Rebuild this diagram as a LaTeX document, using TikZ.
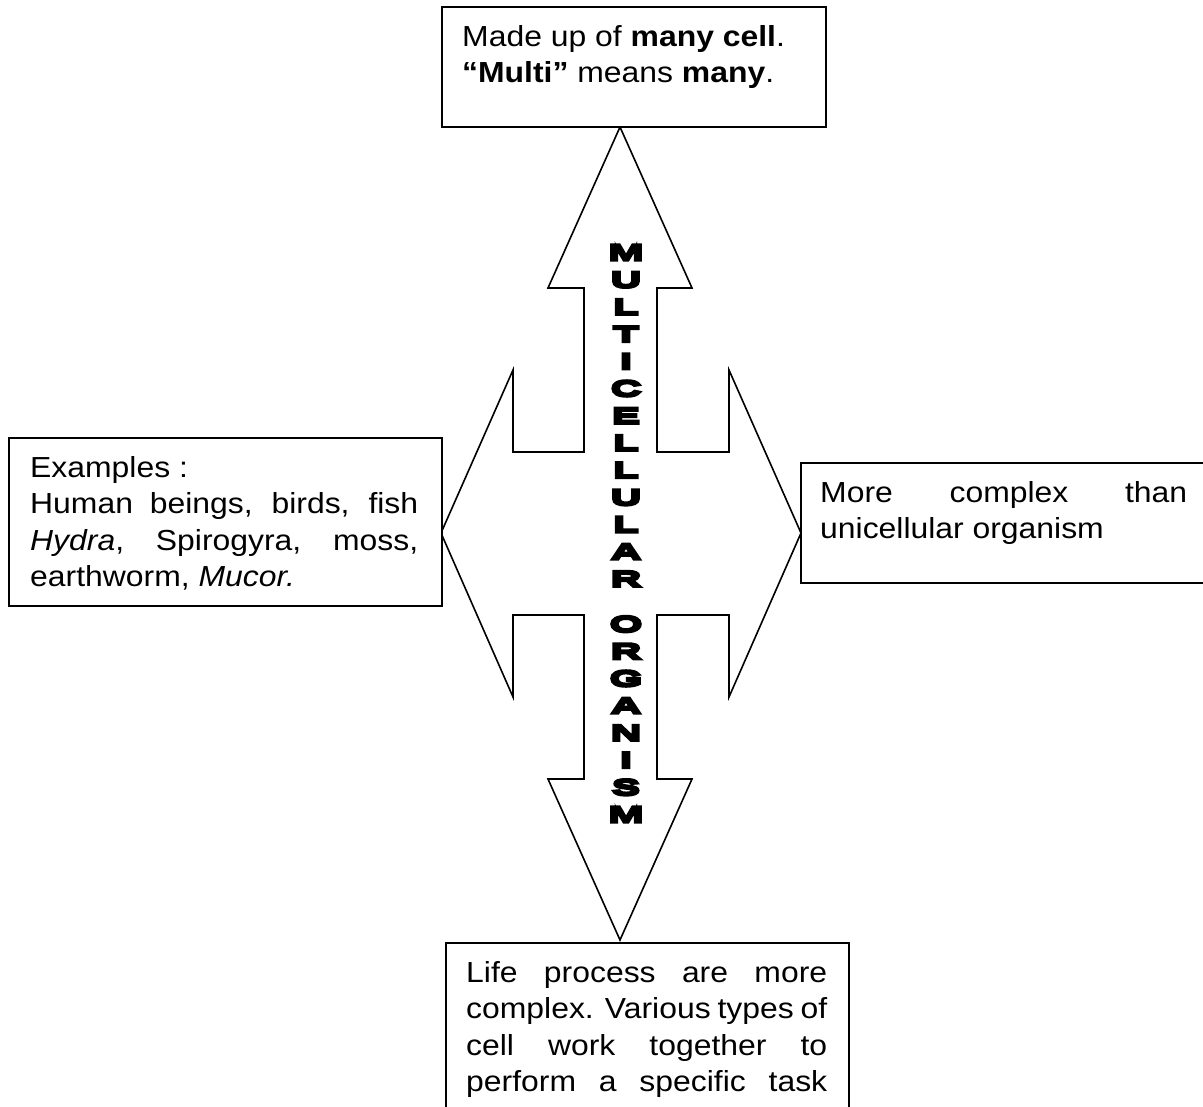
\documentclass[tikz,border=0pt]{standalone}
\usepackage{fontspec}
\setmainfont{Liberation Sans}[FakeStretch=1.1]
\newfontfamily\heavyfont{Liberation Sans}[FakeStretch=1.85]
\newcommand{\jst}[2]{\makebox[#1pt][s]{#2}\strut}
\newcommand{\lft}[2]{\makebox[#1pt][l]{#2}\strut}
\newcommand{\thickon}{\special{pdf:literal direct 2 Tr 2.6 w 0 j}}
\newcommand{\thickoff}{\special{pdf:literal direct 0 Tr}}
\begin{document}
\begin{tikzpicture}[x=1pt,y=-1pt,
  boxst/.style={draw, line width=2pt, fill=white, inner sep=0pt, anchor=north west},
  txt/.style={inner sep=0pt, anchor=north west, align=left, font=\fontsize{29}{36.5}\selectfont},
  arrowst/.style={draw, line width=1.6pt, fill=white, line join=miter},
  titlest/.style={inner sep=0pt, align=center, font=\heavyfont\bfseries\fontsize{22.5}{27.2}\selectfont}]
\clip (0,0) rectangle (1203,1107);
\fill[white] (0,0) rectangle (1203,1107);
% four-way arrow
\draw[arrowst] (620,127) -- (692,288) -- (657,288) -- (657,452) -- (729,452) -- (729,370)
  -- (801,533) -- (729,697) -- (729,615) -- (657,615) -- (657,779) -- (692,779)
  -- (620,940) -- (548,779) -- (584,779) -- (584,615) -- (513,615) -- (513,697)
  -- (441,533) -- (513,370) -- (513,452) -- (584,452) -- (584,288) -- (548,288) -- cycle;
% boxes
\node[boxst, minimum width=384pt, minimum height=120pt] (topbox) at (441,6) {};
\node[boxst, minimum width=433pt, minimum height=168pt] (leftbox) at (8,437) {};
\node[boxst, minimum width=430pt, minimum height=120pt] (rightbox) at (800,462) {};
\node[boxst, minimum width=403pt, minimum height=220pt] (bottombox) at (445,942) {};
% texts
\node[txt] (toptext) at (462,20.5) {\lft{340}{Made up of \textbf{many cell}.}\\
  \lft{340}{\textbf{“Multi”} means \textbf{many}.}};
\node[txt] (lefttext) at (30,451.5) {\lft{388}{Examples :}\\
  \jst{388}{Human beings, birds, fish}\\
  \jst{388}{\textit{Hydra}, Spirogyra, moss,}\\
  \lft{388}{earthworm, \textit{Mucor.}}};
\node[txt] (righttext) at (820,476.5) {\jst{367}{More complex than}\\
  \lft{367}{unicellular organism}};
\node[txt] (bottomtext) at (466,956.5) {\jst{361}{Life process are more}\\
  \jst{361}{complex. Various types of}\\
  \jst{361}{cell work together to}\\
  \jst{361}{perform a specific task}};
% vertical title
\node[titlest] (title) at (626,533.5) {\thickon M\\U\\L\\T\\I\\C\\E\\L\\L\\U\\L\\A\\R\\[18pt]O\\R\\G\\A\\N\\I\\S\\M\thickoff};
\end{tikzpicture}
\end{document}
